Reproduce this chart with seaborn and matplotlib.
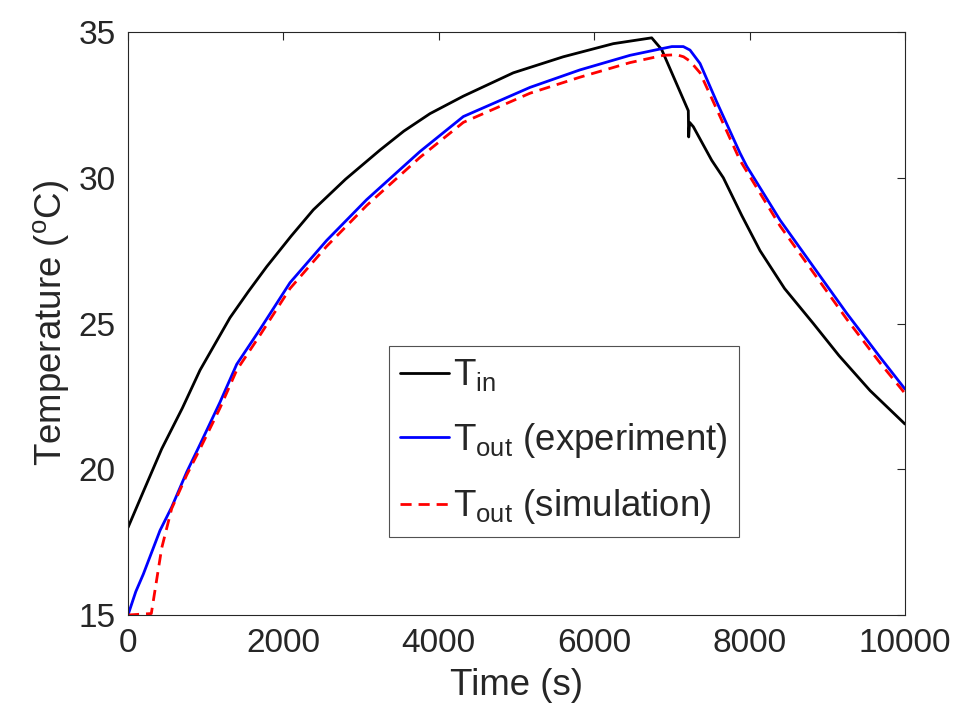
import numpy as np
import pandas as pd
import seaborn as sns
import matplotlib
matplotlib.use('Agg')
import matplotlib.pyplot as plt

# values
t_in_time = [0, 200, 434, 700, 927, 1313, 1550, 1785, 2100, 2385, 2800, 3243, 3550, 3887, 4316,
             4959, 5602, 6246, 6740, 6868, 7211, 7216, 7228, 7276, 7512, 7662, 7900, 8134,
             8450, 8820, 9150, 9550, 10000]
t_in_temp = [18.0, 19.25, 20.7, 22.1, 23.4, 25.2, 26.1, 26.95, 28.0, 28.9, 29.95, 30.95, 31.6, 32.2, 32.8,
             33.6, 34.15, 34.6, 34.8, 34.4, 32.3, 31.4, 31.9, 31.75, 30.6, 30.0, 28.7, 27.5,
             26.2, 25.0, 23.9, 22.7, 21.55]

exp_time = [0, 100, 197, 412, 562, 755, 927, 1184, 1399, 1699, 2085, 2557, 3072, 3758, 4316,
            5174, 5817, 6461, 6890, 7000, 7147, 7233, 7362, 7577, 7876, 7962, 8391, 8820,
            9250, 9678, 10000]
exp_temp = [15.0, 15.8, 16.4, 17.9, 18.7, 19.9, 20.85, 22.3, 23.6, 24.8, 26.4, 27.85, 29.25, 30.9, 32.1,
            33.1, 33.7, 34.2, 34.44, 34.5, 34.5, 34.38, 33.92, 32.6, 30.85, 30.4, 28.55, 26.95,
            25.35, 23.85, 22.75]

sim_time = [0, 300, 434, 562, 755, 927, 1184, 1399, 1699, 2085, 2557, 3072, 3758, 4316, 5174,
            5817, 6461, 6890, 7061, 7150, 7233, 7362, 7577, 7876, 8391, 8820, 9250, 9678, 10000]
sim_temp = [15.0, 15.05, 17.3, 18.65, 19.8, 20.7, 22.1, 23.4, 24.6, 26.2, 27.65, 29.05, 30.7, 31.9, 32.9,
            33.45, 33.95, 34.2, 34.22, 34.15, 34.0, 33.6, 32.35, 30.6, 28.35, 26.75, 25.15, 23.65, 22.6]

sns.set_style('white')
plt.rcParams['font.family'] = ['Liberation Sans', 'DejaVu Sans']
plt.rcParams['mathtext.default'] = 'regular'

grey = '#262626'
fig = plt.figure(figsize=(9.57, 7.24), dpi=100)
ax = fig.add_axes([128/957, 1-615/724, 777/957, 583/724])

sns.lineplot(x=t_in_time, y=t_in_temp, ax=ax, color='black', lw=2, label='T$_{in}$')
sns.lineplot(x=exp_time, y=exp_temp, ax=ax, color='blue', lw=2, label='T$_{out}$ (experiment)')
sns.lineplot(x=sim_time, y=sim_temp, ax=ax, color='red', lw=2, dashes=(4, 2.5),
             label='T$_{out}$ (simulation)')

ax.set_xlim(0, 10000)
ax.set_ylim(15, 35)
ax.set_xticks(np.arange(0, 10001, 2000))
ax.set_yticks(np.arange(15, 36, 5))
ax.tick_params(direction='in', top=True, right=True, length=6, width=0.8,
               labelsize=24, colors=grey, pad=9)
for s in ax.spines.values():
    s.set_color(grey)
    s.set_linewidth(0.8)

ax.set_xlabel('Time (s)', fontsize=26.4, color=grey, labelpad=7)
ax.set_ylabel('Temperature ($^{o}$C)', fontsize=26.4, color=grey, labelpad=5)

leg = ax.legend(loc='center', bbox_to_anchor=(0.561, 0.297), fontsize=26.4, frameon=True,
                fancybox=False, handlelength=1.35, handletextpad=0.12, borderpad=0.3,
                labelspacing=0.75, borderaxespad=0)
leg.get_frame().set_edgecolor(grey)
leg.get_frame().set_linewidth(0.8)

fig.savefig('out.png', dpi=100)
